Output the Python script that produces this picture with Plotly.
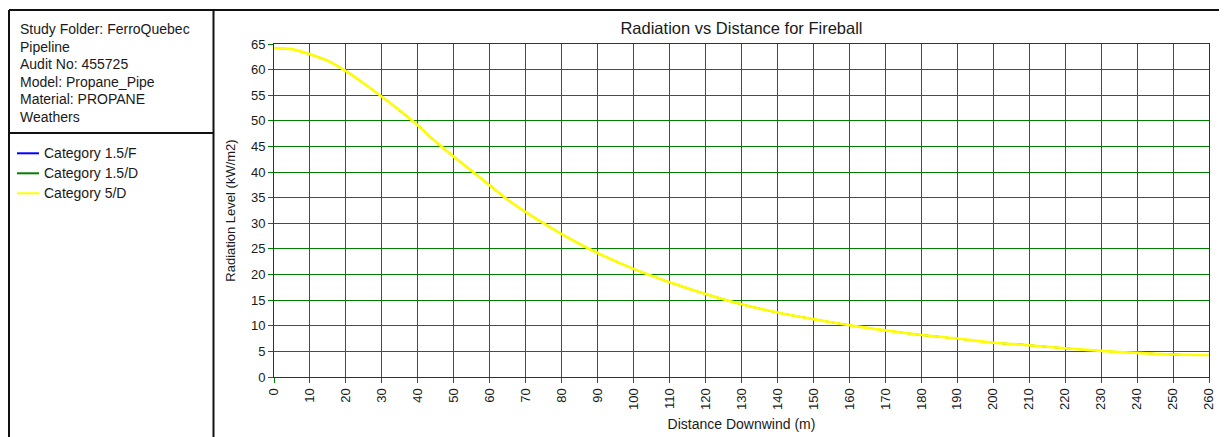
import plotly.graph_objects as go

# ---- data ----
distance_m = [0, 5, 10, 15, 20, 25, 30, 35, 40, 45, 50, 55, 60, 65, 70, 75, 80, 90, 100,
              110, 120, 130, 140, 150, 160, 170, 180, 190, 200, 210, 220, 230, 240, 250, 260]
radiation_5D = [64.2, 64.0, 63.0, 61.7, 59.7, 57.3, 54.7, 52.0, 49.1, 45.9, 43.0, 40.2, 37.4,
                34.6, 32.2, 30.0, 27.9, 24.2, 21.1, 18.5, 16.2, 14.2, 12.6, 11.3, 10.1, 9.1,
                8.2, 7.5, 6.7, 6.2, 5.6, 5.1, 4.7, 4.4, 4.3]
# fireball radiation is the same for every weather category (curves overlap)
radiation_15F = list(radiation_5D)
radiation_15D = list(radiation_5D)

series_names = ["Category 1.5/F", "Category 1.5/D", "Category 5/D"]
series_values = [radiation_15F, radiation_15D, radiation_5D]
series_colors = ["#0000FF", "#008000", "#FFFF00"]
series_widths = [1.4, 1.4, 2.6]

info_lines = ["Study Folder: FerroQuebec", "Pipeline", "Audit No: 455725",
              "Model: Propane_Pipe", "Material: PROPANE", "Weathers"]

x_ticks = list(range(0, 261, 10))
y_ticks = list(range(0, 66, 5))

# ---- layout geometry (page pixels; the page body adds an 8px offset) ----
OFF = 8
PAGE_W, PAGE_H = 1227, 437
W, H = PAGE_W - OFF, PAGE_H - OFF
L, R, T, B = 274, 1209, 44, 377          # plot area on the page
FONT = "Liberation Sans, Arial, sans-serif"
TXT = "#1a1a1a"


def px_x(px):
    return (px - L) / (R - L)


def px_y(py):
    return (B - py) / (B - T)


fig = go.Figure()
for name, vals, col, wd in zip(series_names, series_values, series_colors, series_widths):
    fig.add_trace(go.Scatter(x=distance_m, y=vals, mode="lines", name=name,
                             line=dict(color=col, width=wd, shape="spline", smoothing=0.6),
                             showlegend=False))

shapes = []
frame = dict(type="line", xref="paper", yref="paper", line=dict(color="#111111", width=2))
# outer frame and dividers
shapes.append(dict(frame, x0=px_x(9), x1=px_x(1226), y0=px_y(10), y1=px_y(10)))
shapes.append(dict(frame, x0=px_x(9), x1=px_x(9), y0=px_y(10), y1=px_y(440)))
shapes.append(dict(frame, x0=px_x(1226), x1=px_x(1226), y0=px_y(10), y1=px_y(440)))
shapes.append(dict(frame, x0=px_x(213.5), x1=px_x(213.5), y0=px_y(10), y1=px_y(440)))
shapes.append(dict(frame, x0=px_x(9), x1=px_x(213.5), y0=px_y(133), y1=px_y(133)))

annotations = []
for i, line in enumerate(info_lines):
    annotations.append(dict(xref="paper", yref="paper", x=px_x(18), y=px_y(29.3 + 17.5 * i),
                            xanchor="left", yanchor="middle", showarrow=False, text=line,
                            font=dict(family=FONT, size=14, color=TXT)))

for i, (name, col) in enumerate(zip(series_names, series_colors)):
    yy = 153.3 + 20 * i
    shapes.append(dict(type="line", xref="paper", yref="paper", x0=px_x(17), x1=px_x(39),
                       y0=px_y(yy), y1=px_y(yy), line=dict(color=col, width=2)))
    annotations.append(dict(xref="paper", yref="paper", x=px_x(42), y=px_y(yy),
                            xanchor="left", yanchor="middle", showarrow=False, text=name,
                            font=dict(family=FONT, size=14, color=TXT)))

axis_common = dict(showgrid=True, gridcolor="#008000", gridwidth=1, automargin=False,
                   showline=True, linecolor="#333333", linewidth=1, mirror=True,
                   ticks="outside", ticklen=5, tickcolor="#008000", tickwidth=1,
                   zeroline=False, tickfont=dict(family=FONT, size=13, color=TXT))

fig.update_layout(
    width=W, height=H,
    margin=dict(l=L - OFF, r=PAGE_W - R, t=T - OFF, b=PAGE_H - B, pad=0, autoexpand=False),
    paper_bgcolor="white", plot_bgcolor="white",
    title=dict(text="Radiation vs Distance for Fireball", x=0.5, xref="paper",
               xanchor="center", y=1 - (28 - OFF) / H, yref="container", yanchor="middle",
               font=dict(family=FONT, size=16.5, color=TXT)),
    xaxis=dict(axis_common, range=[0, 260], tickvals=x_ticks, tickangle=-90,
               title=dict(text="Distance Downwind (m)", standoff=10,
                          font=dict(family=FONT, size=14, color=TXT))),
    yaxis=dict(axis_common, range=[0, 65], tickvals=y_ticks,
               title=dict(text="Radiation Level (kW/m2)", standoff=12,
                          font=dict(family=FONT, size=13, color=TXT))),
    shapes=shapes, annotations=annotations, showlegend=False,
)

fig.write_html("out.html")
